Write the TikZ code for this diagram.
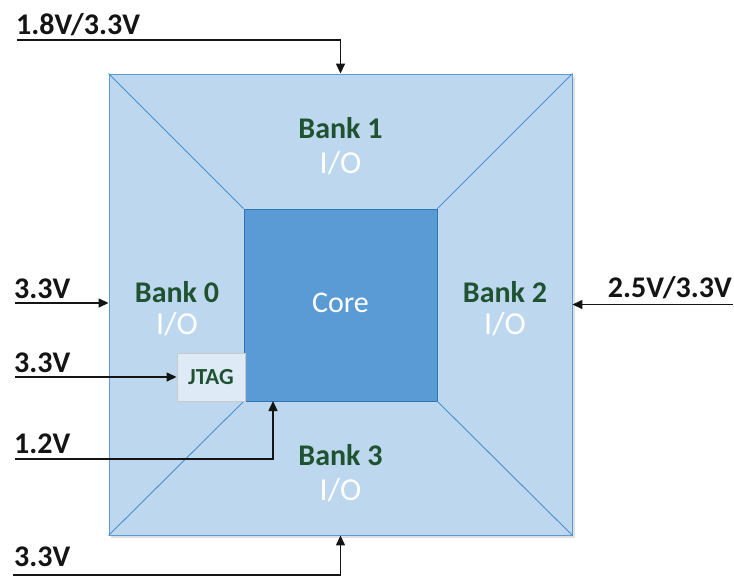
\documentclass[tikz,border=0pt]{standalone}
\usepackage{fontspec}
\setmainfont{Carlito}
\usetikzlibrary{arrows.meta,calc}
\definecolor{bankfill}{HTML}{BDD7EE}
\definecolor{bankline}{HTML}{5B9BD5}
\definecolor{corefill}{HTML}{5B9BD5}
\definecolor{coreline}{HTML}{2E75B6}
\definecolor{diagline}{HTML}{4A90D0}
\definecolor{jtagfill}{HTML}{DEEBF7}
\definecolor{jtagline}{HTML}{C9C9C9}
\definecolor{bankgreen}{HTML}{1E5230}
\definecolor{volt}{HTML}{141414}
\tikzset{
  banktext/.style={text=bankgreen,font=\fontsize{30}{32}\selectfont\bfseries,inner sep=0pt},
  iotext/.style={text=white,font=\fontsize{32}{34}\selectfont,inner sep=0pt},
  volttext/.style={text=volt,font=\fontsize{30}{32}\selectfont\bfseries,inner sep=0pt,anchor=base west},
  feed/.style={draw=volt,line width=1.4pt,-{Triangle[length=10pt,width=9pt]}},
}
\begin{document}
\begin{tikzpicture}[x=1pt,y=-1pt]
\useasboundingbox (0,0) rectangle (734,579);
% shadow
\fill[black!12] (111,77) rectangle (575,538);
\node[draw=bankline,fill=bankfill,line width=0.9pt,minimum width=463pt,minimum height=461pt,inner sep=0pt] (outer) at (340.5,304.5) {};
\node[draw=coreline,fill=corefill,line width=0.9pt,minimum width=193pt,minimum height=192pt,inner sep=0pt] (core) at (340.5,305) {};
\draw[diagline,line width=0.9pt] (outer.north west) -- (core.north west);
\draw[diagline,line width=0.9pt] (outer.north east) -- (core.north east);
\draw[diagline,line width=0.9pt] (outer.south west) -- (core.south west);
\draw[diagline,line width=0.9pt] (outer.south east) -- (core.south east);
\node[draw=jtagline,fill=jtagfill,line width=0.9pt,minimum width=68pt,minimum height=48pt,inner sep=0pt,
      text=bankgreen,font=\fontsize{23}{25}\selectfont\bfseries] (jtag) at (211,377) {JTAG};
% labels
\node[text=white,font=\fontsize{30}{32}\selectfont,inner sep=0pt] (corelbl) at (340.5,303) {Core};
\node[banktext] (b1) at (340.5,128) {Bank 1};
\node[iotext] (io1) at (340.5,163) {I/O};
\node[banktext] (b0) at (177,292) {Bank 0};
\node[iotext] (io0) at (177,324) {I/O};
\node[banktext] (b2) at (505,292) {Bank 2};
\node[iotext] (io2) at (505,324) {I/O};
\node[banktext] (b3) at (340.5,455) {Bank 3};
\node[iotext] (io3) at (340.5,490) {I/O};
% voltage labels
\node[volttext] (t1) at (16,34) {1.8V/3.3V};
\node[volttext] (t0) at (14,298) {3.3V};
\node[volttext] (tj) at (14,372) {3.3V};
\node[volttext] (tc) at (14,453) {1.2V};
\node[volttext] (tb) at (14,566) {3.3V};
\node[volttext,anchor=base east] (t2) at (732,297) {2.5V/3.3V};
% feed lines
\coordinate (v1) at (17,40);
\coordinate (v0) at (15,303);
\coordinate (vj) at (15,377);
\coordinate (vc) at (15,459);
\coordinate (cin) at (273,401);
\coordinate (vb) at (13,575);
\coordinate (v2) at (733,304.5);
\draw[feed] (v1) -| (outer.north);
\draw[feed] (v0) -- (v0 -| outer.west);
\draw[feed] (vj) -- (jtag.west);
\draw[feed] (vc) -| (cin);
\draw[feed] (vb) -| (outer.south);
\draw[feed] (v2) -- (outer.east);
\end{tikzpicture}
\end{document}
